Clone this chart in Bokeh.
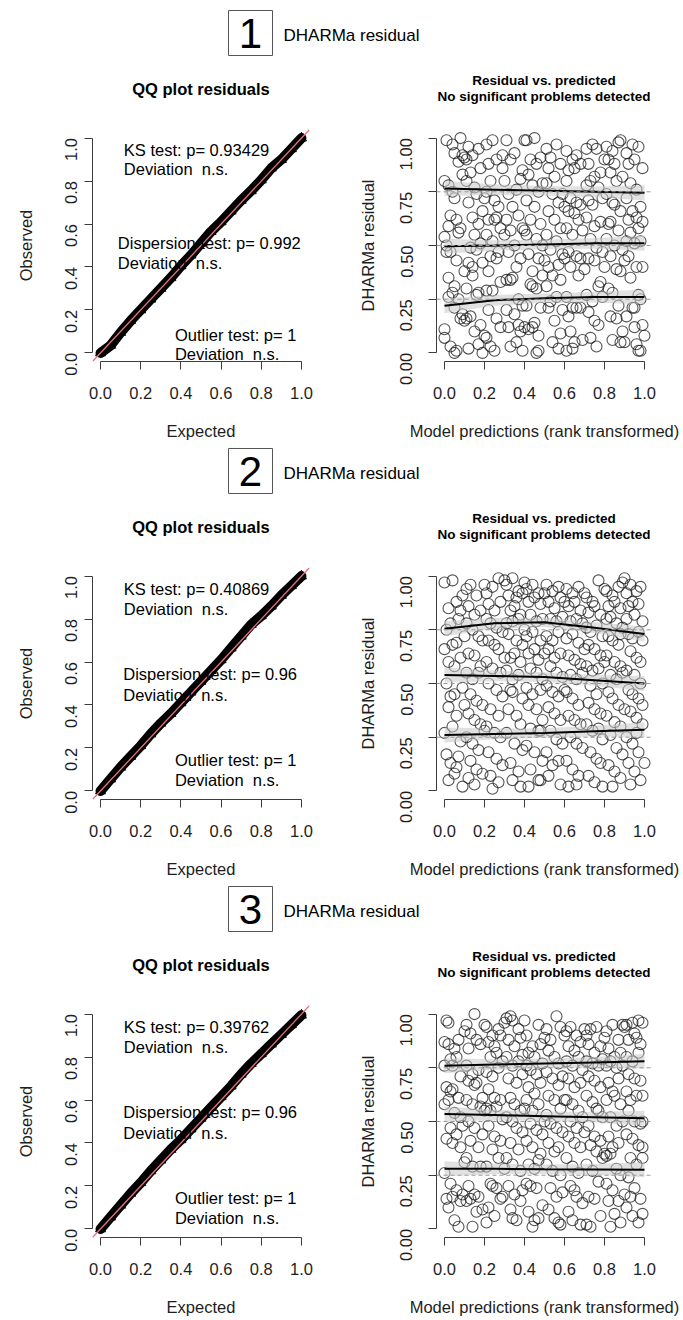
import math
from bokeh.plotting import figure
from bokeh.models import Range1d, FixedTicker, NumeralTickFormatter, Label, Span, Slope
from bokeh.layouts import column, row
from bokeh.embed import file_html
from bokeh.resources import INLINE
from bokeh.core.properties import value

FONT = "Liberation Sans"
AXIS_COLOR = "#3c3c3c"

# ---------------- data ----------------
qq_expected = [0.0, 0.05, 0.1, 0.15, 0.2, 0.25, 0.3, 0.35, 0.4, 0.45, 0.5,
               0.55, 0.6, 0.65, 0.7, 0.75, 0.8, 0.85, 0.9, 0.95, 1.0]
qq1_observed = [0.0, 0.035, 0.095, 0.15, 0.2, 0.25, 0.3, 0.35, 0.405, 0.455, 0.51,
                0.565, 0.61, 0.66, 0.71, 0.755, 0.805, 0.86, 0.9, 0.95, 1.0]
qq2_observed = [0.0, 0.055, 0.11, 0.16, 0.21, 0.265, 0.315, 0.36, 0.41, 0.46, 0.51,
                0.56, 0.61, 0.665, 0.72, 0.775, 0.815, 0.86, 0.91, 0.955, 1.0]
qq3_observed = [0.0, 0.055, 0.11, 0.165, 0.215, 0.27, 0.32, 0.37, 0.415, 0.465, 0.515,
                0.565, 0.615, 0.665, 0.72, 0.77, 0.815, 0.86, 0.905, 0.95, 0.995]

qq1_tests = ["KS test: p= 0.93429", "Dispersion test: p= 0.992", "Outlier test: p= 1"]
qq2_tests = ["KS test: p= 0.40869", "Dispersion test: p= 0.96", "Outlier test: p= 1"]
qq3_tests = ["KS test: p= 0.39762", "Dispersion test: p= 0.96", "Outlier test: p= 1"]
deviation_text = "Deviation \u00a0n.s."

panel_numbers = ["1", "2", "3"]
header_text = "DHARMa residual"
qq_title = "QQ plot residuals"
res_title = ["Residual vs. predicted", "No significant problems detected"]

res1_points = [
    (0.01,0.99),(0.04,0.97),(0.00,0.80),(0.02,0.78),(0.04,0.75),(0.05,0.72),(0.02,0.59),(0.00,0.54),(0.01,0.50),(0.03,0.47),(0.06,0.43),(0.02,0.35),(0.05,0.31),(0.04,0.28),(0.07,0.25),(0.05,0.21),(0.00,0.11),(0.00,0.07),(0.03,0.03),(0.05,0.00),(0.06,0.01),(0.08,0.16),(0.07,0.56),(0.06,0.62),(0.07,0.89),(0.05,0.93),(0.08,1.00),(0.09,0.92),(0.10,0.91),(0.09,0.83),(0.08,0.58),(0.10,0.38),(0.09,0.18),(0.10,0.15),(0.02,0.26),(0.01,0.47),(0.03,0.64),
    (0.11,0.90),(0.12,0.96),(0.14,0.92),(0.13,0.84),(0.11,0.80),(0.15,0.77),(0.16,0.74),(0.12,0.70),(0.14,0.63),(0.17,0.60),(0.15,0.55),(0.13,0.49),(0.16,0.48),(0.18,0.51),(0.12,0.42),(0.14,0.36),(0.11,0.30),(0.16,0.27),(0.17,0.28),(0.13,0.17),(0.15,0.10),(0.12,0.02),(0.17,0.04),(0.19,0.00),(0.18,0.13),(0.19,0.42),(0.19,0.66),(0.18,0.86),(0.17,0.95),(0.20,0.72),(0.11,0.16),(0.14,0.40),
    (0.21,0.97),(0.24,0.99),(0.22,0.88),(0.26,0.90),(0.23,0.80),(0.21,0.75),(0.25,0.71),(0.27,0.68),(0.22,0.62),(0.25,0.62),(0.26,0.63),(0.28,0.58),(0.21,0.55),(0.24,0.52),(0.27,0.47),(0.23,0.45),(0.26,0.44),(0.22,0.38),(0.28,0.33),(0.21,0.29),(0.24,0.29),(0.22,0.20),(0.26,0.16),(0.20,0.08),(0.21,0.07),(0.23,0.03),(0.25,0.01),(0.28,0.12),(0.29,0.86),(0.29,0.92),(0.30,0.80),(0.30,0.55),
    (0.31,0.99),(0.33,0.90),(0.35,0.93),(0.32,0.74),(0.36,0.76),(0.38,0.81),(0.34,0.68),(0.37,0.64),(0.31,0.62),(0.33,0.57),(0.39,0.58),(0.35,0.50),(0.32,0.47),(0.38,0.44),(0.36,0.40),(0.31,0.34),(0.34,0.35),(0.33,0.34),(0.37,0.25),(0.39,0.22),(0.31,0.20),(0.35,0.18),(0.32,0.12),(0.38,0.10),(0.36,0.05),(0.33,0.03),(0.39,0.01),(0.37,0.13),(0.40,0.99),(0.39,0.85),(0.40,0.57),(0.40,0.12),
    (0.41,0.99),(0.45,1.00),(0.43,0.90),(0.46,0.88),(0.48,0.91),(0.42,0.83),(0.44,0.78),(0.47,0.75),(0.49,0.79),(0.41,0.71),(0.45,0.68),(0.43,0.62),(0.48,0.60),(0.41,0.55),(0.46,0.53),(0.49,0.50),(0.42,0.46),(0.47,0.44),(0.44,0.38),(0.49,0.36),(0.43,0.32),(0.44,0.31),(0.46,0.30),(0.48,0.21),(0.41,0.22),(0.45,0.14),(0.42,0.11),(0.44,0.12),(0.47,0.08),(0.46,0.00),(0.47,0.01),(0.50,0.43),
    (0.51,0.95),(0.53,0.91),(0.56,0.97),(0.52,0.86),(0.55,0.82),(0.58,0.88),(0.51,0.79),(0.54,0.74),(0.57,0.70),(0.59,0.74),(0.52,0.66),(0.55,0.62),(0.58,0.58),(0.51,0.55),(0.56,0.52),(0.53,0.48),(0.59,0.46),(0.52,0.40),(0.57,0.41),(0.54,0.36),(0.58,0.34),(0.51,0.31),(0.53,0.24),(0.56,0.26),(0.59,0.20),(0.52,0.21),(0.55,0.15),(0.58,0.09),(0.54,0.05),(0.57,0.02),(0.60,0.44),(0.60,0.68),
    (0.61,0.94),(0.64,0.90),(0.66,0.92),(0.62,0.85),(0.65,0.86),(0.68,0.88),(0.61,0.80),(0.63,0.72),(0.66,0.70),(0.68,0.69),(0.62,0.66),(0.65,0.65),(0.67,0.62),(0.61,0.58),(0.64,0.55),(0.69,0.57),(0.62,0.47),(0.66,0.45),(0.68,0.44),(0.63,0.40),(0.67,0.36),(0.61,0.26),(0.64,0.21),(0.66,0.21),(0.68,0.21),(0.62,0.17),(0.63,0.10),(0.65,0.05),(0.61,0.01),(0.64,0.02),(0.69,0.06),(0.70,0.39),
    (0.71,0.95),(0.74,0.97),(0.76,0.95),(0.72,0.88),(0.75,0.82),(0.78,0.84),(0.71,0.78),(0.73,0.80),(0.77,0.77),(0.72,0.71),(0.74,0.69),(0.79,0.72),(0.71,0.63),(0.75,0.59),(0.78,0.61),(0.73,0.53),(0.76,0.49),(0.79,0.47),(0.72,0.44),(0.75,0.43),(0.77,0.31),(0.78,0.33),(0.71,0.27),(0.74,0.24),(0.79,0.26),(0.72,0.19),(0.75,0.15),(0.77,0.13),(0.73,0.07),(0.76,0.03),(0.80,0.40),(0.80,0.90),
    (0.81,0.96),(0.84,0.94),(0.87,0.98),(0.88,0.99),(0.82,0.90),(0.85,0.88),(0.83,0.84),(0.86,0.80),(0.89,0.82),(0.81,0.74),(0.84,0.70),(0.85,0.69),(0.88,0.66),(0.82,0.60),(0.83,0.61),(0.87,0.57),(0.81,0.53),(0.85,0.50),(0.89,0.48),(0.83,0.45),(0.86,0.39),(0.88,0.38),(0.82,0.30),(0.84,0.28),(0.87,0.22),(0.83,0.17),(0.86,0.16),(0.89,0.10),(0.84,0.06),(0.88,0.05),(0.90,0.05),(0.90,0.43),
    (0.91,0.93),(0.94,0.97),(0.97,0.96),(0.92,0.88),(0.95,0.90),(0.99,0.86),(0.93,0.79),(0.96,0.76),(0.91,0.72),(0.94,0.66),(0.98,0.68),(0.92,0.62),(0.96,0.63),(0.99,0.61),(0.93,0.56),(0.97,0.58),(0.91,0.52),(0.95,0.51),(0.98,0.52),(0.92,0.45),(0.96,0.40),(0.99,0.40),(0.93,0.35),(0.97,0.27),(0.94,0.21),(0.98,0.25),(0.91,0.17),(0.95,0.12),(0.99,0.13),(0.96,0.04),(0.97,0.01),(0.98,0.01),(1.00,0.08),(0.95,0.21),
]

res2_points = [
    (0.00,0.97),(0.04,0.98),(0.02,0.85),(0.06,0.88),(0.08,0.84),(0.01,0.75),(0.03,0.78),(0.07,0.80),(0.00,0.66),(0.04,0.68),(0.06,0.69),(0.02,0.60),(0.05,0.58),(0.08,0.62),(0.01,0.50),(0.03,0.44),(0.05,0.45),(0.09,0.48),(0.02,0.39),(0.06,0.35),(0.00,0.27),(0.04,0.30),(0.08,0.23),(0.01,0.17),(0.03,0.13),(0.07,0.16),(0.02,0.05),(0.05,0.08),(0.09,0.02),(0.06,0.11),(0.09,0.91),(0.10,0.72),(0.10,0.40),
    (0.11,0.94),(0.13,0.96),(0.16,0.91),(0.12,0.86),(0.15,0.82),(0.18,0.84),(0.11,0.78),(0.14,0.75),(0.17,0.72),(0.19,0.70),(0.12,0.64),(0.15,0.63),(0.18,0.58),(0.11,0.55),(0.14,0.52),(0.17,0.55),(0.13,0.45),(0.16,0.42),(0.19,0.40),(0.12,0.36),(0.15,0.33),(0.18,0.31),(0.11,0.25),(0.14,0.22),(0.17,0.19),(0.13,0.14),(0.16,0.10),(0.12,0.06),(0.15,0.03),(0.19,0.08),(0.20,0.96),(0.20,0.28),
    (0.21,0.92),(0.24,0.95),(0.27,0.99),(0.22,0.87),(0.25,0.84),(0.28,0.88),(0.21,0.80),(0.23,0.78),(0.26,0.76),(0.29,0.74),(0.22,0.70),(0.25,0.68),(0.27,0.66),(0.21,0.60),(0.24,0.57),(0.28,0.55),(0.22,0.50),(0.26,0.47),(0.29,0.44),(0.23,0.38),(0.27,0.35),(0.21,0.30),(0.25,0.27),(0.28,0.25),(0.22,0.18),(0.26,0.15),(0.29,0.12),(0.23,0.07),(0.27,0.04),(0.24,0.01),(0.30,0.98),(0.30,0.62),
    (0.31,0.96),(0.34,0.99),(0.37,0.93),(0.32,0.91),(0.36,0.90),(0.39,0.92),(0.33,0.84),(0.35,0.86),(0.38,0.82),(0.31,0.78),(0.34,0.79),(0.37,0.80),(0.32,0.73),(0.36,0.70),(0.39,0.68),(0.33,0.62),(0.35,0.64),(0.38,0.60),(0.31,0.56),(0.34,0.52),(0.37,0.54),(0.33,0.47),(0.34,0.46),(0.39,0.43),(0.32,0.38),(0.36,0.35),(0.38,0.31),(0.31,0.27),(0.35,0.22),(0.39,0.19),(0.33,0.13),(0.37,0.09),(0.34,0.05),(0.38,0.02),(0.40,0.97),(0.40,0.75),
    (0.41,0.94),(0.44,0.96),(0.47,0.92),(0.42,0.88),(0.45,0.90),(0.48,0.87),(0.43,0.82),(0.46,0.79),(0.49,0.80),(0.41,0.72),(0.44,0.74),(0.48,0.70),(0.42,0.64),(0.45,0.66),(0.47,0.61),(0.43,0.57),(0.46,0.55),(0.49,0.52),(0.41,0.48),(0.44,0.45),(0.48,0.47),(0.42,0.40),(0.46,0.38),(0.49,0.33),(0.43,0.29),(0.47,0.28),(0.48,0.28),(0.41,0.21),(0.45,0.18),(0.49,0.14),(0.43,0.10),(0.47,0.05),(0.48,0.05),(0.42,0.02),(0.50,0.92),(0.50,0.64),
    (0.51,0.96),(0.54,0.93),(0.57,0.95),(0.52,0.88),(0.55,0.85),(0.58,0.90),(0.53,0.80),(0.56,0.79),(0.59,0.81),(0.51,0.72),(0.54,0.70),(0.57,0.74),(0.52,0.66),(0.55,0.62),(0.58,0.64),(0.53,0.58),(0.56,0.55),(0.59,0.53),(0.51,0.49),(0.54,0.46),(0.57,0.44),(0.52,0.39),(0.55,0.36),(0.58,0.33),(0.53,0.28),(0.56,0.24),(0.59,0.22),(0.51,0.18),(0.54,0.12),(0.57,0.14),(0.52,0.07),(0.58,0.03),(0.60,0.88),(0.60,0.47),
    (0.61,0.94),(0.64,0.92),(0.67,0.95),(0.62,0.86),(0.65,0.88),(0.68,0.84),(0.63,0.79),(0.66,0.80),(0.69,0.78),(0.61,0.71),(0.64,0.73),(0.67,0.69),(0.62,0.63),(0.65,0.61),(0.68,0.59),(0.63,0.54),(0.66,0.52),(0.69,0.55),(0.61,0.46),(0.64,0.43),(0.67,0.40),(0.62,0.35),(0.65,0.33),(0.68,0.31),(0.63,0.25),(0.66,0.22),(0.69,0.20),(0.61,0.14),(0.64,0.10),(0.67,0.07),(0.62,0.02),(0.66,0.03),(0.70,0.92),(0.70,0.66),
    (0.71,0.90),(0.74,0.88),(0.77,0.98),(0.72,0.83),(0.75,0.86),(0.78,0.82),(0.71,0.76),(0.73,0.74),(0.76,0.77),(0.79,0.72),(0.72,0.68),(0.75,0.66),(0.78,0.63),(0.71,0.58),(0.74,0.56),(0.77,0.57),(0.79,0.50),(0.73,0.49),(0.76,0.45),(0.72,0.41),(0.75,0.38),(0.78,0.36),(0.71,0.31),(0.74,0.28),(0.77,0.29),(0.79,0.24),(0.73,0.18),(0.76,0.15),(0.78,0.13),(0.72,0.07),(0.75,0.04),(0.79,0.02),(0.80,0.94),(0.80,0.60),
    (0.81,0.93),(0.84,0.91),(0.87,0.95),(0.89,0.97),(0.82,0.86),(0.85,0.88),(0.88,0.85),(0.81,0.80),(0.83,0.81),(0.86,0.78),(0.89,0.76),(0.82,0.72),(0.84,0.70),(0.87,0.68),(0.88,0.73),(0.81,0.63),(0.85,0.60),(0.88,0.58),(0.83,0.54),(0.86,0.52),(0.89,0.55),(0.82,0.46),(0.84,0.43),(0.87,0.40),(0.81,0.35),(0.85,0.32),(0.88,0.30),(0.83,0.26),(0.86,0.20),(0.89,0.17),(0.82,0.12),(0.85,0.09),(0.88,0.06),(0.84,0.02),(0.90,0.99),(0.90,0.38),
    (0.91,0.92),(0.93,0.96),(0.96,0.93),(0.98,0.95),(0.92,0.86),(0.94,0.88),(0.97,0.87),(0.91,0.80),(0.95,0.82),(0.99,0.79),(0.92,0.73),(0.94,0.71),(0.97,0.74),(0.99,0.70),(0.93,0.65),(0.96,0.62),(0.98,0.60),(0.91,0.56),(0.95,0.54),(0.98,0.50),(0.92,0.47),(0.94,0.45),(0.97,0.43),(0.99,0.40),(0.93,0.37),(0.96,0.34),(0.99,0.31),(0.91,0.25),(0.94,0.22),(0.97,0.18),(0.92,0.13),(0.95,0.09),(0.98,0.05),(0.93,0.03),(1.00,0.13),(0.96,0.27),
]

res3_points = [
    (0.01,0.97),(0.02,0.96),(0.00,0.87),(0.02,0.86),(0.05,0.84),(0.07,0.88),(0.00,0.76),(0.03,0.79),(0.04,0.76),(0.06,0.80),(0.08,0.71),(0.01,0.66),(0.03,0.64),(0.04,0.65),(0.07,0.61),(0.00,0.58),(0.02,0.60),(0.05,0.54),(0.08,0.52),(0.03,0.47),(0.06,0.44),(0.01,0.42),(0.04,0.40),(0.08,0.38),(0.00,0.26),(0.03,0.21),(0.06,0.18),(0.01,0.14),(0.04,0.15),(0.08,0.13),(0.02,0.10),(0.05,0.04),(0.07,0.01),(0.09,0.16),(0.10,0.92),(0.09,0.48),(0.10,0.31),
    (0.11,0.95),(0.13,0.91),(0.15,1.00),(0.12,0.84),(0.16,0.88),(0.18,0.86),(0.11,0.76),(0.14,0.72),(0.17,0.74),(0.12,0.69),(0.15,0.67),(0.16,0.68),(0.19,0.61),(0.11,0.60),(0.14,0.58),(0.18,0.57),(0.12,0.50),(0.15,0.47),(0.19,0.44),(0.13,0.41),(0.17,0.38),(0.11,0.33),(0.14,0.29),(0.18,0.29),(0.12,0.20),(0.15,0.16),(0.17,0.15),(0.11,0.13),(0.13,0.14),(0.16,0.08),(0.19,0.09),(0.14,0.01),(0.20,0.95),(0.20,0.55),
    (0.21,0.94),(0.24,0.90),(0.27,0.93),(0.22,0.87),(0.25,0.85),(0.28,0.90),(0.23,0.80),(0.26,0.82),(0.29,0.78),(0.21,0.73),(0.24,0.71),(0.27,0.75),(0.22,0.65),(0.25,0.61),(0.28,0.60),(0.21,0.56),(0.23,0.55),(0.26,0.57),(0.29,0.51),(0.22,0.48),(0.25,0.43),(0.28,0.41),(0.24,0.37),(0.27,0.33),(0.21,0.29),(0.23,0.21),(0.24,0.20),(0.26,0.19),(0.28,0.14),(0.22,0.10),(0.25,0.06),(0.21,0.03),(0.29,0.15),(0.30,0.96),(0.30,0.28),
    (0.31,0.98),(0.33,0.99),(0.34,0.97),(0.37,0.93),(0.32,0.88),(0.35,0.85),(0.38,0.89),(0.31,0.80),(0.34,0.76),(0.37,0.78),(0.39,0.81),(0.32,0.70),(0.36,0.68),(0.39,0.72),(0.33,0.61),(0.35,0.58),(0.38,0.55),(0.31,0.52),(0.34,0.50),(0.36,0.47),(0.39,0.45),(0.33,0.40),(0.37,0.37),(0.31,0.33),(0.34,0.30),(0.38,0.27),(0.32,0.20),(0.35,0.16),(0.39,0.18),(0.33,0.09),(0.34,0.05),(0.36,0.04),(0.38,0.13),(0.40,0.97),(0.40,0.56),
    (0.41,0.90),(0.44,0.85),(0.47,0.95),(0.42,0.82),(0.45,0.80),(0.48,0.86),(0.41,0.76),(0.43,0.74),(0.46,0.72),(0.49,0.77),(0.42,0.66),(0.45,0.63),(0.48,0.68),(0.41,0.60),(0.44,0.55),(0.47,0.58),(0.43,0.49),(0.46,0.46),(0.49,0.44),(0.41,0.41),(0.44,0.38),(0.48,0.35),(0.42,0.30),(0.45,0.28),(0.47,0.32),(0.41,0.21),(0.43,0.20),(0.46,0.19),(0.49,0.11),(0.42,0.08),(0.45,0.04),(0.47,0.05),(0.44,0.01),(0.50,0.89),(0.50,0.50),
    (0.51,0.93),(0.53,0.88),(0.56,0.99),(0.58,0.94),(0.52,0.83),(0.55,0.80),(0.57,0.77),(0.51,0.73),(0.54,0.70),(0.57,0.67),(0.59,0.71),(0.52,0.62),(0.55,0.60),(0.58,0.56),(0.51,0.53),(0.53,0.49),(0.56,0.47),(0.59,0.45),(0.52,0.40),(0.55,0.36),(0.57,0.38),(0.51,0.30),(0.54,0.27),(0.58,0.25),(0.53,0.19),(0.56,0.15),(0.59,0.17),(0.52,0.09),(0.55,0.05),(0.57,0.03),(0.58,0.02),(0.60,0.90),(0.60,0.60),
    (0.61,0.92),(0.63,0.94),(0.66,0.90),(0.62,0.85),(0.65,0.83),(0.68,0.87),(0.61,0.78),(0.64,0.76),(0.67,0.80),(0.69,0.74),(0.62,0.70),(0.65,0.66),(0.68,0.68),(0.61,0.60),(0.64,0.58),(0.67,0.55),(0.63,0.50),(0.66,0.47),(0.69,0.52),(0.62,0.43),(0.65,0.40),(0.68,0.38),(0.61,0.33),(0.64,0.29),(0.67,0.26),(0.63,0.20),(0.65,0.18),(0.66,0.15),(0.69,0.12),(0.62,0.08),(0.64,0.04),(0.68,0.02),(0.70,0.93),(0.70,0.45),
    (0.71,0.90),(0.73,0.93),(0.76,0.94),(0.72,0.86),(0.75,0.82),(0.78,0.85),(0.71,0.78),(0.74,0.77),(0.77,0.76),(0.79,0.79),(0.72,0.71),(0.75,0.69),(0.78,0.66),(0.71,0.62),(0.74,0.59),(0.76,0.56),(0.77,0.55),(0.79,0.52),(0.72,0.48),(0.75,0.43),(0.78,0.41),(0.73,0.39),(0.76,0.36),(0.79,0.33),(0.71,0.30),(0.74,0.27),(0.77,0.22),(0.72,0.15),(0.75,0.14),(0.78,0.06),(0.71,0.02),(0.73,0.01),(0.80,0.89),(0.80,0.35),
    (0.81,0.92),(0.84,0.95),(0.87,0.88),(0.89,0.95),(0.82,0.84),(0.85,0.80),(0.88,0.82),(0.81,0.76),(0.83,0.78),(0.86,0.75),(0.89,0.76),(0.82,0.68),(0.84,0.64),(0.87,0.70),(0.81,0.60),(0.85,0.62),(0.88,0.58),(0.83,0.52),(0.86,0.48),(0.89,0.50),(0.82,0.43),(0.84,0.38),(0.87,0.40),(0.81,0.34),(0.83,0.35),(0.86,0.28),(0.88,0.25),(0.81,0.21),(0.84,0.18),(0.87,0.13),(0.82,0.13),(0.85,0.07),(0.88,0.03),(0.83,0.01),(0.90,0.94),(0.90,0.16),
    (0.91,0.95),(0.94,0.96),(0.95,0.91),(0.97,0.97),(0.99,0.96),(0.92,0.88),(0.96,0.89),(0.98,0.86),(0.91,0.80),(0.94,0.78),(0.97,0.82),(0.92,0.72),(0.95,0.70),(0.98,0.69),(0.91,0.64),(0.93,0.60),(0.96,0.62),(0.99,0.62),(0.92,0.55),(0.95,0.50),(0.98,0.49),(0.99,0.50),(0.91,0.44),(0.94,0.42),(0.97,0.39),(0.99,0.38),(0.93,0.33),(0.96,0.30),(0.99,0.33),(0.92,0.24),(0.95,0.19),(0.98,0.14),(0.91,0.10),(0.94,0.06),(0.97,0.03),(0.99,0.07),(0.93,0.15),
]

quant_x = [0.0, 0.25, 0.5, 0.75, 1.0]
res1_q25 = [0.22, 0.245, 0.255, 0.26, 0.26]
res1_q50 = [0.497, 0.50, 0.505, 0.51, 0.51]
res1_q75 = [0.765, 0.76, 0.755, 0.75, 0.745]
res2_q25 = [0.26, 0.265, 0.27, 0.278, 0.285]
res2_q50 = [0.54, 0.535, 0.53, 0.515, 0.50]
res2_q75 = [0.755, 0.78, 0.785, 0.76, 0.73]
res3_q25 = [0.28, 0.28, 0.278, 0.277, 0.275]
res3_q50 = [0.535, 0.53, 0.525, 0.52, 0.515]
res3_q75 = [0.76, 0.765, 0.77, 0.775, 0.78]
band_half = [0.035, 0.025, 0.022, 0.025, 0.035]
quantile_levels = [0.25, 0.5, 0.75]

qq_ticks = [0.0, 0.2, 0.4, 0.6, 0.8, 1.0]
res_yticks = [0.0, 0.25, 0.5, 0.75, 1.0]

# ---------------- layout / style (pixels) ----------------
qq1_text_pos = [(0.116, 0.943, 0.855), (0.086, 0.51, 0.42), (0.37, 0.085, -0.003)]
qq23_text_pos = [(0.116, 0.941, 0.848), (0.113, 0.544, 0.448), (0.37, 0.145, 0.051)]

PAGE_W = 683
LEFT_W, RIGHT_W = 349, 334
HEADER_H = [119, 111, 111]
HEADER_SHIFT = [0, -8, -8]
PLOT_H = [327, 327, 325]
TOP_B = 10
FRAME_H = 232
FS = "16.5px"


def style_axes(p, yfmt, yticks, xlabel, ylabel, ytick_standoff, ylabel_standoff):
    for ax in p.xaxis + p.yaxis:
        ax.bounds = (0, 1)
        ax.axis_line_color = AXIS_COLOR
        ax.major_tick_line_color = AXIS_COLOR
        ax.minor_tick_line_color = None
        ax.major_tick_out = 8
        ax.major_tick_in = 0
        ax.major_label_text_font = FONT
        ax.major_label_text_font_size = FS
        ax.major_label_text_color = "#1e1e1e"
        ax.axis_label_text_font = FONT
        ax.axis_label_text_font_size = FS
        ax.axis_label_text_font_style = "normal"
        ax.axis_label_text_color = "#1e1e1e"
    p.xaxis.ticker = FixedTicker(ticks=qq_ticks)
    p.xaxis.formatter = NumeralTickFormatter(format="0.0")
    p.xaxis.major_label_standoff = 17
    p.xaxis.axis_label = xlabel
    p.xaxis.axis_label_standoff = 20
    p.yaxis.ticker = FixedTicker(ticks=yticks)
    p.yaxis.formatter = NumeralTickFormatter(format=yfmt)
    p.yaxis.major_label_orientation = math.pi / 2
    p.yaxis.major_label_standoff = ytick_standoff
    p.yaxis.axis_label = ylabel
    p.yaxis.axis_label_standoff = ylabel_standoff
    p.grid.visible = False
    p.outline_line_color = None


def make_header(i):
    H = HEADER_H[i]
    s = HEADER_SHIFT[i]
    h = figure(width=PAGE_W, height=H, x_range=Range1d(0, PAGE_W), y_range=Range1d(H, 0),
               toolbar_location=None, output_backend="svg", min_border=0)
    h.axis.visible = False
    h.grid.visible = False
    h.outline_line_color = None
    h.quad(left=[228], right=[272], top=[10 + s], bottom=[55 + s], fill_color=None,
           line_color="#555555", line_width=1)
    h.text(x=[250], y=[33 + s], text=[panel_numbers[i]], text_font=value(FONT),
           text_font_size="42px", text_align="center", text_baseline="middle", text_color="black")
    h.text(x=[283], y=[35 + s], text=[header_text], text_font=value(FONT),
           text_font_size="17px", text_align="left", text_baseline="middle", text_color="black")
    h.text(x=[200.5], y=[88 + s], text=[qq_title], text_font=value(FONT), text_font_size=FS,
           text_font_style="bold", text_align="center", text_baseline="middle", text_color="black")
    h.text(x=[543.5, 543.5], y=[80 + s, 96 + s], text=res_title, text_font=value(FONT),
           text_font_size="13.5px", text_font_style="bold", text_align="center",
           text_baseline="middle", text_color="black")
    return h


def make_qq(observed, tests, pos, height):
    p = figure(width=LEFT_W, height=height, x_range=Range1d(-0.04, 1.04), y_range=Range1d(-0.04, 1.04),
               toolbar_location=None, output_backend="svg",
               min_border_left=92, min_border_right=40, min_border_top=TOP_B,
               min_border_bottom=height - TOP_B - FRAME_H)
    p.line(qq_expected, observed, line_width=10, color="black", line_join="round", line_cap="round")
    p.scatter(qq_expected, observed, marker="triangle", size=10, fill_color=None, line_color="black")
    p.add_layout(Slope(gradient=1, y_intercept=0, line_color="#e8707f", line_width=1.3))
    for (tx, y1, y2), t in zip(pos, tests):
        p.add_layout(Label(x=tx, y=y1, text=t, text_font=FONT, text_font_size=FS,
                           text_baseline="middle", text_color="black"))
        p.add_layout(Label(x=tx, y=y2, text=deviation_text, text_font=FONT, text_font_size=FS,
                           text_baseline="middle", text_color="black"))
    style_axes(p, "0.0", qq_ticks, "Expected", "Observed", 13, 22)
    return p


def make_res(points, qs, height):
    p = figure(width=RIGHT_W, height=height, x_range=Range1d(-0.04, 1.04), y_range=Range1d(-0.04, 1.04),
               toolbar_location=None, output_backend="svg",
               min_border_left=87, min_border_right=31, min_border_top=TOP_B,
               min_border_bottom=height - TOP_B - FRAME_H)
    xs = [pt[0] for pt in points]
    ys = [pt[1] for pt in points]
    p.scatter(xs, ys, marker="circle", size=11, fill_color=None, line_color="#1a1a1a",
              line_alpha=0.75, line_width=1.1)
    for q in qs:
        lo = [v - b for v, b in zip(q, band_half)]
        hi = [v + b for v, b in zip(q, band_half)]
        p.varea(x=quant_x, y1=lo, y2=hi, fill_color="#c8c8c8", fill_alpha=0.55)
    for lev in quantile_levels:
        p.add_layout(Span(location=lev, dimension="width", line_color="#9a9a9a",
                          line_dash="4 3", line_width=1))
    for q in qs:
        p.line(quant_x, q, line_width=2, color="black")
    style_axes(p, "0.00", res_yticks, "Model predictions (rank transformed)",
               "DHARMa residual", 22, 15)
    return p


blocks = []
rows_spec = [
    (qq1_observed, qq1_tests, qq1_text_pos, res1_points, [res1_q25, res1_q50, res1_q75]),
    (qq2_observed, qq2_tests, qq23_text_pos, res2_points, [res2_q25, res2_q50, res2_q75]),
    (qq3_observed, qq3_tests, qq23_text_pos, res3_points, [res3_q25, res3_q50, res3_q75]),
]
for i, (obs, tests, pos, pts, qs) in enumerate(rows_spec):
    blocks.append(make_header(i))
    blocks.append(row(make_qq(obs, tests, pos, PLOT_H[i]), make_res(pts, qs, PLOT_H[i])))

layout = column(*blocks)
open("out.html", "w").write(file_html(layout, INLINE))
